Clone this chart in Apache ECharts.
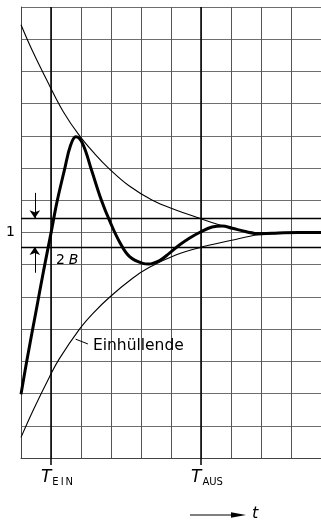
<!DOCTYPE html>
<html>
<head>
<meta charset="utf-8">
<script src="https://cdn.jsdelivr.net/npm/echarts@6/dist/echarts.min.js"></script>
<style>
  html, body { margin: 0; padding: 0; background: #fff; }
  #chart { width: 321px; height: 520px; }
</style>
</head>
<body>
<div id="chart"></div>
<script>
// Settling of a step response into the tolerance band 1 ± B.
// Time axis: 10 divisions; amplitude axis: 14 divisions, steady value "1" at division 7.
const timeMarks = [1, 6];
const timeMarkNames = ['E\u2009I\u2009N', 'AUS'];
const levelValue = 7;
const levelName = '1';
const bandLow = 6.55;
const bandHigh = 7.44;

// Oscillating response (thick curve)
const responseX = [0, 0.2, 0.5, 0.75, 1.0, 1.2, 1.45, 1.65, 1.83, 2.05, 2.35, 2.68, 2.96, 3.29, 3.62, 4.06, 4.25, 4.62, 4.95, 5.28, 5.61, 5.95, 6.37, 6.71, 7.04, 7.48, 7.92, 8.36, 9.25, 10];
const responseY = [1.98, 3.05, 4.55, 5.8, 6.98, 7.95, 8.95, 9.7, 9.97, 9.77, 8.94, 8.0, 7.35, 6.7, 6.25, 6.04, 6.02, 6.13, 6.36, 6.61, 6.82, 7.0, 7.17, 7.2, 7.13, 7.03, 6.96, 6.98, 7.0, 7.0];

// Upper envelope (thin, decaying from above)
const upperX = [0, 0.4, 0.94, 1.41, 1.93, 2.45, 2.95, 3.6, 4.38, 5.16, 5.96, 6.6, 7.0, 7.5, 8.0, 9.0, 10];
const upperY = [13.45, 12.6, 11.58, 10.75, 10.03, 9.45, 8.97, 8.45, 8.0, 7.7, 7.44, 7.24, 7.13, 7.04, 6.99, 6.98, 6.98];

// Lower envelope (thin, rising from below)
const lowerX = [0, 0.41, 0.94, 1.27, 1.95, 2.4, 2.95, 3.72, 4.28, 5.16, 5.95, 6.98, 7.92, 9.0, 10];
const lowerY = [0.64, 1.49, 2.5, 3.07, 4.0, 4.49, 4.99, 5.58, 5.92, 6.3, 6.53, 6.75, 6.93, 6.98, 6.98];

const zip = (xs, ys) => xs.map((x, i) => [x, ys[i]]);

const chart = echarts.init(document.getElementById('chart'), null, { renderer: 'canvas' });

const ink = '#000';

chart.setOption({
  animation: false,
  backgroundColor: '#fff',
  textStyle: { fontFamily: 'DejaVu Sans', color: ink },
  grid: { left: 21, top: 7, width: 301.7, height: 451, containLabel: false },
  xAxis: [
    {
      // grid columns
      type: 'value', min: 0, max: 10, interval: 1,
      axisLine: { show: true, lineStyle: { color: '#444', width: 1 } },
      axisTick: { show: false },
      axisLabel: { show: false },
      splitLine: { show: true, lineStyle: { color: '#555', width: 1 } }
    },
    {
      // switch-on / switch-off instants
      type: 'value', min: 0, max: 10, position: 'bottom',
      axisLine: { show: false },
      axisTick: { show: true, customValues: timeMarks, length: 7, lineStyle: { color: ink, width: 1.5 } },
      axisLabel: {
        show: true, customValues: timeMarks, margin: 11, padding: [0, 0, 0, 12],
        formatter: v => {
          const i = timeMarks.indexOf(v);
          return i < 0 ? '' : '{t|T}{s|' + timeMarkNames[i] + '}';
        },
        rich: {
          t: { fontSize: 17, fontStyle: 'italic', color: ink, fontFamily: 'DejaVu Sans' },
          s: { fontSize: 10, color: ink, fontFamily: 'DejaVu Sans', padding: [8, 0, 0, 1] }
        }
      },
      splitLine: { show: false }
    }
  ],
  yAxis: {
    type: 'value', min: 0, max: 14, interval: 1,
    axisLine: { show: true, lineStyle: { color: '#444', width: 1 } },
    axisTick: { show: false },
    axisLabel: {
      show: true, customValues: [levelValue], margin: 6, fontSize: 14, color: ink,
      formatter: () => levelName
    },
    splitLine: { show: true, lineStyle: { color: '#6e6e6e', width: 1 } }
  },
  graphic: [
    { type: 'line', shape: { x1: 190, y1: 515, x2: 234, y2: 515 }, style: { stroke: ink, lineWidth: 1 } },
    { type: 'polygon', shape: { points: [[231, 512.3], [246, 515], [231, 517.7]] }, style: { fill: ink } },
    { type: 'text', x: 252, y: 514, style: { text: 't', font: 'italic 16px "DejaVu Sans"', fill: ink, verticalAlign: 'middle' } }
  ],
  series: [
    {
      name: 'upper', type: 'line', data: zip(upperX, upperY), smooth: 0.4, showSymbol: false,
      lineStyle: { color: ink, width: 1.1 }, z: 3,
      markLine: {
        silent: true, symbol: ['none', 'none'], label: { show: false },
        data: [
          { xAxis: timeMarks[0], lineStyle: { color: ink, width: 1.5, type: 'solid' } },
          { xAxis: timeMarks[1], lineStyle: { color: ink, width: 1.5, type: 'solid' } },
          { yAxis: bandHigh, lineStyle: { color: ink, width: 1.3, type: 'solid' } },
          { yAxis: bandLow, lineStyle: { color: ink, width: 1.3, type: 'solid' } }
        ]
      }
    },
    {
      name: 'lower', type: 'line', data: zip(lowerX, lowerY), smooth: 0.4, showSymbol: false,
      lineStyle: { color: ink, width: 1.1 }, z: 3,
      markLine: {
        silent: true, label: { show: false },
        symbol: ['none', 'arrow'], symbolSize: 8,
        lineStyle: { color: ink, width: 1, type: 'solid' },
        data: [
          [{ coord: [0.46, 8.23] }, { coord: [0.46, bandHigh] }],
          [{ coord: [0.46, 5.75] }, { coord: [0.46, bandLow] }],
          [{ coord: [1.82, 3.69], symbol: 'none' }, { coord: [2.23, 3.54], symbol: 'none' }]
        ]
      },
      markPoint: {
        silent: true, symbol: 'circle', symbolSize: 1, itemStyle: { color: 'rgba(0,0,0,0)' },
        data: [
          { coord: [2.38, 3.48], label: { show: true, position: 'right', distance: 0, formatter: 'Einhüllende', fontSize: 15.5, color: ink } },
          { coord: [1.15, 6.12], label: { show: true, position: 'right', distance: 0, formatter: '{n|2} {b|B}',
            rich: { n: { fontSize: 14, color: ink }, b: { fontSize: 14, fontStyle: 'italic', color: ink } } } }
        ]
      }
    },
    {
      name: 'response', type: 'line', data: zip(responseX, responseY), smooth: 0.4, showSymbol: false,
      lineStyle: { color: ink, width: 3 }, z: 4
    }
  ]
});
</script>
</body>
</html>
